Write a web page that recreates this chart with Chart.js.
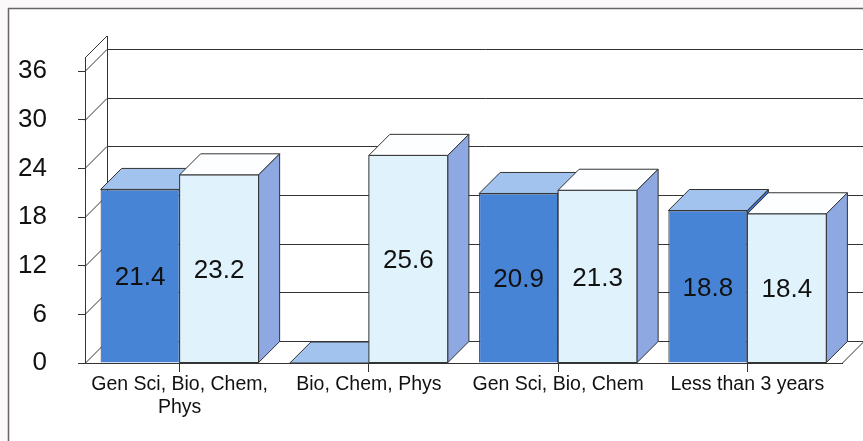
<!DOCTYPE html>
<html>
<head>
<meta charset="utf-8">
<script src="https://cdn.jsdelivr.net/npm/chart.js@4.4.1/dist/chart.umd.min.js"></script>
<style>
    html, body { margin: 0; padding: 0; background: #fcf9fa; }
    #wrap { width: 863px; height: 441px; }
</style>
</head>
<body>
<div id="wrap"><canvas id="chart" width="863" height="441"></canvas></div>
<script>
// Chart data
const categories = [['Gen Sci, Bio, Chem,', 'Phys'], 'Bio, Chem, Phys', 'Gen Sci, Bio, Chem', 'Less than 3 years'];
const seriesDark = [21.4, 0, 20.9, 18.8];
const seriesLight = [23.2, 25.6, 21.3, 18.4];
const yMin = 0;
const yMax = 36;
const yStep = 6;

// 3D look
const WALL_DX = 22, WALL_DY = 22;   // depth of walls
const BAR_D = 21;                   // depth of bars
const WALL_EXTRA = 13;              // walls go a bit above the top tick
const LINE = '#333';
const FONT = '"Liberation Sans", Arial, sans-serif';

const colors = {
    darkFront: '#4884d6',
    darkTop: '#a2c3ee',
    darkSide: '#3f6fbf',
    lightFront: '#e0f2fc',
    lightTop: '#fdfeff',
    lightSide: '#8ea8e2'
};

function poly(ctx, pts, fill) {
    ctx.beginPath();
    ctx.moveTo(pts[0][0], pts[0][1]);
    for (let i = 1; i < pts.length; i++) ctx.lineTo(pts[i][0], pts[i][1]);
    ctx.closePath();
    ctx.fillStyle = fill;
    ctx.fill();
    ctx.stroke();
}

// Frame around the whole figure
const framePlugin = {
    id: 'frame',
    beforeDraw(chart) {
        const ctx = chart.ctx;
        ctx.save();
        ctx.fillStyle = '#ffffff';
        ctx.fillRect(9, 9, chart.width, chart.height);
        ctx.strokeStyle = '#666';
        ctx.lineWidth = 1.5;
        ctx.beginPath();
        ctx.moveTo(8.5, chart.height + 5);
        ctx.lineTo(8.5, 8.5);
        ctx.lineTo(chart.width + 5, 8.5);
        ctx.stroke();
        ctx.restore();
    }
};

// Back wall, left wall and floor
const wallsPlugin = {
    id: 'walls',
    beforeDatasetsDraw(chart) {
        const ctx = chart.ctx;
        const { left, right, top, bottom } = chart.chartArea;
        const y = chart.scales.y;
        ctx.save();
        ctx.strokeStyle = LINE;
        ctx.lineWidth = 1;
        ctx.beginPath();
        // back wall gridlines + left wall diagonals
        y.ticks.forEach(t => {
            const py = Math.round(y.getPixelForValue(t.value)) + 0.5;
            ctx.moveTo(left + WALL_DX, py - WALL_DY);
            ctx.lineTo(right + WALL_DX + 2, py - WALL_DY);
            ctx.moveTo(left, py);
            ctx.lineTo(left + WALL_DX, py - WALL_DY);
        });
        // wall edges
        const wallTop = top - WALL_EXTRA;
        ctx.moveTo(left + WALL_DX + 0.5, wallTop - WALL_DY);
        ctx.lineTo(left + WALL_DX + 0.5, bottom - WALL_DY);
        ctx.moveTo(left + 0.5, wallTop);
        ctx.lineTo(left + 0.5, top);
        ctx.moveTo(left, wallTop);
        ctx.lineTo(left + WALL_DX, wallTop - WALL_DY);
        // floor right edge
        ctx.moveTo(right, bottom + 0.5);
        ctx.lineTo(right + WALL_DX, bottom - WALL_DY + 0.5);
        ctx.stroke();
        ctx.restore();
    },
    afterDatasetsDraw(chart) {
        const ctx = chart.ctx;
        const dark = chart.getDatasetMeta(0).data;
        const light = chart.getDatasetMeta(1).data;
        ctx.save();
        ctx.strokeStyle = LINE;
        ctx.lineWidth = 1;
        ctx.lineJoin = 'round';
        const faces = (bar, topColor, sideColor) => {
            const l = bar.x - bar.width / 2, r = bar.x + bar.width / 2;
            const t = bar.y, b = bar.base;
            poly(ctx, [[l, t], [r, t], [r + BAR_D, t - BAR_D], [l + BAR_D, t - BAR_D]], topColor);
            if (b - t > 0.5) {
                poly(ctx, [[r, t], [r + BAR_D, t - BAR_D], [r + BAR_D, b - BAR_D], [r, b]], sideColor);
            }
        };
        dark.forEach((d, i) => {
            const lb = light[i];
            faces(d, colors.darkTop, colors.darkSide);
            // light bar front again, it stands in front of the dark side
            const l = lb.x - lb.width / 2;
            ctx.fillStyle = colors.lightFront;
            ctx.fillRect(l, lb.y, lb.width, lb.base - lb.y);
            ctx.strokeRect(l, lb.y, lb.width, lb.base - lb.y);
            faces(lb, colors.lightTop, colors.lightSide);
        });
        // value labels
        ctx.fillStyle = '#111';
        ctx.font = '26px ' + FONT;
        ctx.textAlign = 'center';
        ctx.textBaseline = 'middle';
        [dark, light].forEach((bars, k) => {
            const values = k === 0 ? seriesDark : seriesLight;
            bars.forEach((bar, i) => {
                if (!values[i]) return;
                ctx.fillText(values[i].toFixed(1), bar.x, (bar.y + bar.base) / 2 + 2);
            });
        });
        ctx.restore();
    }
};

const ctx = document.getElementById('chart').getContext('2d');
const chart = new Chart(ctx, {
    type: 'bar',
    data: {
        labels: categories,
        datasets: [{
            label: 'Series 1',
            data: seriesDark,
            backgroundColor: colors.darkFront,
            borderColor: LINE,
            borderWidth: 1,
            barPercentage: 1,
            categoryPercentage: 0.835
        }, {
            label: 'Series 2',
            data: seriesLight,
            backgroundColor: colors.lightFront,
            borderColor: LINE,
            borderWidth: 1,
            barPercentage: 1,
            categoryPercentage: 0.835
        }]
    },
    options: {
        responsive: false,
        devicePixelRatio: 1,
        animation: false,
        layout: {
            padding: { top: 71, right: 21, left: 0, bottom: 0 }
        },
        plugins: {
            legend: { display: false },
            tooltip: { enabled: false }
        },
        scales: {
            x: {
                afterFit: (s) => { s.height = 78; },
                grid: {
                    offset: false,
                    drawOnChartArea: false,
                    tickLength: 9,
                    color: LINE
                },
                border: { color: LINE },
                ticks: {
                    color: '#111',
                    padding: 1,
                    maxRotation: 0,
                    font: { family: FONT, size: 19.5 }
                }
            },
            y: {
                min: yMin,
                max: yMax,
                afterFit: (s) => { s.width = 85; },
                grid: {
                    drawOnChartArea: false,
                    tickLength: 7,
                    color: LINE
                },
                border: { color: LINE },
                ticks: {
                    stepSize: yStep,
                    color: '#111',
                    padding: 31,
                    font: { family: FONT, size: 26 }
                }
            }
        }
    },
    plugins: [framePlugin, wallsPlugin]
});
</script>
</body>
</html>
